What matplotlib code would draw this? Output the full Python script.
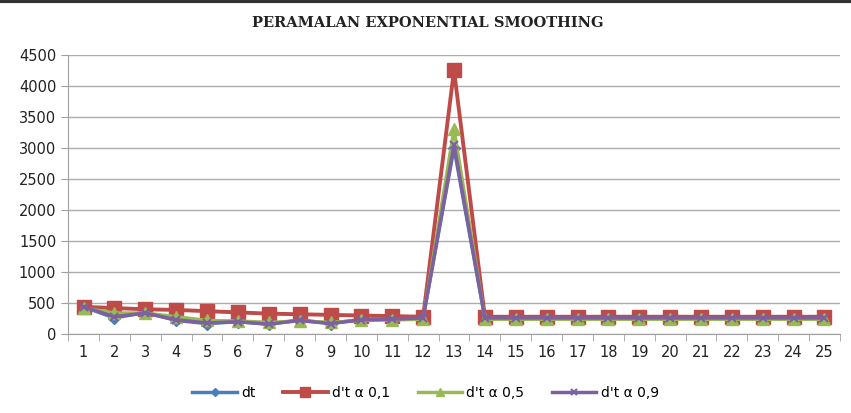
import matplotlib.pyplot as plt
import numpy as np

periods = list(range(1, 26))
dt = [440, 260, 350, 220, 170, 200, 160, 230, 170, 240, 240, 260, 3000,
      260, 260, 260, 260, 260, 260, 260, 260, 260, 260, 260, 260]
a01 = [440, 420, 400, 390, 370, 350, 330, 320, 310, 300, 290, 280, 4250,
       280, 280, 280, 280, 280, 280, 280, 280, 280, 280, 280, 280]
a05 = [420, 340, 340, 280, 220, 210, 190, 210, 190, 220, 230, 240, 3300,
       240, 240, 240, 240, 240, 240, 240, 240, 240, 240, 240, 240]
a09 = [440, 280, 340, 230, 180, 200, 160, 220, 170, 230, 240, 260, 3050,
       260, 260, 260, 260, 260, 260, 260, 260, 260, 260, 260, 260]
yticks = list(range(0, 4501, 500))

fig = plt.figure(figsize=(8.51, 4.13), dpi=100)
ax = fig.add_axes([0.080, 0.191, 0.907, 0.676])

ax.plot(periods, dt, color="#4a7ebb", lw=2.5, marker="D", ms=6, label="dt")
ax.plot(periods, a01, color="#be4b48", lw=2.8, marker="s", ms=10, label="d't α 0,1")
ax.plot(periods, a05, color="#98b954", lw=2.5, marker="^", ms=9, label="d't α 0,5")
ax.plot(periods, a09, color="#7d60a0", lw=2.5, marker="x", ms=6, mew=1.5, label="d't α 0,9")

ax.set_xlim(0.5, 25.5)
ax.set_ylim(0, 4500)
ax.set_yticks(yticks)
ax.set_xticks(periods)
ax.set_xticks(np.arange(0.5, 26, 1), minor=True)
ax.tick_params(axis="x", which="major", length=0, labelsize=10.5, colors="#222222", pad=8)
ax.tick_params(axis="x", which="minor", length=5, direction="out", color="#a0a0a0")
ax.tick_params(axis="y", length=5, direction="out", color="#a0a0a0", labelsize=10.5, labelcolor="#222222")
ax.grid(axis="y", color="#acacac", lw=1)
ax.set_axisbelow(True)
for s in ["top", "right"]:
    ax.spines[s].set_visible(False)
for s in ["left", "bottom"]:
    ax.spines[s].set_color("#a0a0a0")

fig.text(0.503, 0.945, "PERAMALAN EXPONENTIAL SMOOTHING", ha="center", va="center",
         fontsize=10.5, fontweight="bold", family="DejaVu Serif", color="#222222")
leg = fig.legend(loc="center", bbox_to_anchor=(0.5, 0.048), ncol=4, frameon=False,
                 fontsize=10, handlelength=3.2, columnspacing=2.0, handletextpad=0.3,
                 markerscale=0.7)

# dark frame line at the top edge
fig.add_artist(plt.Line2D([0, 1], [0.997, 0.997], color="#333333", lw=3))

fig.savefig("out.png", dpi=100)
